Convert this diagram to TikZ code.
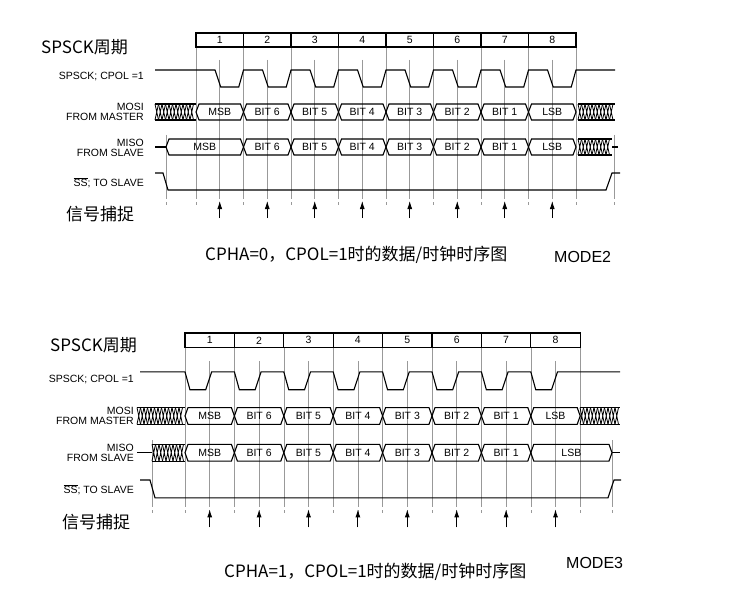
\documentclass[tikz,border=0pt]{standalone}
\usepackage{fontspec}
\setmainfont{Liberation Sans}
\newfontfamily\cjk{Noto Sans CJK SC}
\usetikzlibrary{arrows.meta}
\tikzset{
 lbl/.style={font=\fontsize{10.5}{10}\selectfont, inner sep=0pt},
 rlbl/.style={font=\fontsize{10.5}{10}\selectfont, inner sep=0pt, anchor=east, align=right},
 sig/.style={line width=1.1pt},
 guide/.style={gray!80, line width=0.6pt},
 caparrow/.style={-{Latex[length=8pt,width=5pt]}, line width=0.9pt},
}
\newcommand\hatchbar[4]{%
 \draw[sig] (#1,-#3)--(#2,-#3) (#1,-#4)--(#2,-#4);
 \pgfmathtruncatemacro\nh{(#2-#1)/3.5}
 \foreach \k in {1,...,\nh}{\draw[line width=0.8pt] ({#1+(\k-1)*3.5},-#3)--({#1+\k*3.5},-#4) ({#1+(\k-1)*3.5},-#4)--({#1+\k*3.5},-#3);}}
\newcommand\cellbox[5]{%
 \draw[sig] (#1,{-(#3+#4)/2})--({#1+3},-#3)--({#2-3},-#3)--(#2,{-(#3+#4)/2})--({#2-3},-#4)--({#1+3},-#4)--cycle;
 \node[lbl] at ({(#1+#2)/2},{-(#3+#4)/2}) {#5};}
\begin{document}
\begin{tikzpicture}[x=1pt,y=1pt]
\useasboundingbox[fill=white] (0,0) rectangle (742,-607);
% ================= TOP (MODE2) =================
\begin{scope}
\def\xo{196}\def\w{47.5}
\foreach \i in {0,...,8}{\draw[guide] ({\xo+\i*\w},-47)--({\xo+\i*\w},-196);
 \draw[guide,dashed] ({\xo+\i*\w},-196)--({\xo+\i*\w},-206);}
\foreach \i in {0,...,7}{\draw[guide] ({\xo+(\i+0.5)*\w},-60)--({\xo+(\i+0.5)*\w},-196);
 \draw[guide,dashed] ({\xo+(\i+0.5)*\w},-196)--({\xo+(\i+0.5)*\w},-206);}
\foreach \xx in {166,614}{\draw[guide] (\xx,-135)--(\xx,-196);\draw[guide,dashed](\xx,-196)--(\xx,-206);}
\draw[sig] (\xo,-33) rectangle ({\xo+8*\w},-47);
\foreach \i in {1,...,7}\draw[sig] ({\xo+\i*\w},-33)--({\xo+\i*\w},-47);
\foreach \i in {1,...,8}\node[lbl] at ({\xo+(\i-0.5)*\w},-40) {\i};
\node[font=\cjk\fontsize{17}{17}\selectfont, anchor=west, inner sep=0pt] (t1) at (41,-47) {SPSCK周期};
\node[rlbl] (clkl) at (144,-77) {SPSCK; CPOL =1};
\node[rlbl] (mosil) at (144,-112) {MOSI\\FROM MASTER};
\node[rlbl] (misol) at (144,-148) {MISO\\FROM SLAVE};
\node[rlbl] (ssl) at (144,-183) {$\overline{\mbox{SS}}$; TO SLAVE};
\draw[sig] (155,-70) foreach \i in {0,...,7}{ -- ({\xo+\i*\w+0.4*\w},-70) -- ({\xo+\i*\w+0.52*\w},-87) -- ({\xo+\i*\w+0.9*\w},-87) -- ({\xo+\i*\w+\w},-70)} -- (615,-70);
\hatchbar{155}{196}{104}{120}
\foreach \i/\t in {0/MSB,1/BIT 6,2/BIT 5,3/BIT 4,4/BIT 3,5/BIT 2,6/BIT 1,7/LSB}
 \cellbox{\xo+\i*\w}{\xo+\i*\w+\w}{104}{120}{\t};
\hatchbar{578}{615}{104}{120}
\draw[sig] (155,-147)--(166,-147);
\cellbox{166}{\xo+\w}{139}{155}{MSB}
\foreach \i/\t in {1/BIT 6,2/BIT 5,3/BIT 4,4/BIT 3,5/BIT 2,6/BIT 1,7/LSB}
 \cellbox{\xo+\i*\w}{\xo+\i*\w+\w}{139}{155}{\t};
\hatchbar{578}{612}{139}{155}
\draw[sig] (612,-147)--(618,-147);
\draw[sig] (155,-173)--(163,-173)--(168,-190)--(606,-190)--(612,-173)--(620,-173);
\node[font=\cjk\fontsize{17}{17}\selectfont, anchor=west, inner sep=0pt] (cap1) at (66,-214) {信号捕捉};
\foreach \i in {0,...,7}\draw[caparrow] ({\xo+(\i+0.5)*\w},-218)--({\xo+(\i+0.5)*\w},-201);
\node[font=\cjk\fontsize{17}{17}\selectfont, anchor=west, inner sep=0pt] (c1) at (205,-255) {CPHA=0，CPOL=1时的数据/时钟时序图};
\node[font=\fontsize{16}{16}\selectfont, anchor=west, inner sep=0pt] (m2) at (554,-257) {MODE2};
\end{scope}
% ================= BOTTOM (MODE3) =================
\begin{scope}[yshift=-298.35pt, yscale=1.05]
\def\xo{185}\def\w{49.4}
\foreach \i in {0,...,8}{\draw[guide] ({\xo+\i*\w},-47)--({\xo+\i*\w},-196);
 \draw[guide,dashed] ({\xo+\i*\w},-196)--({\xo+\i*\w},-206);}
\foreach \i in {0,...,7}{\draw[guide] ({\xo+(\i+0.5)*\w},-60)--({\xo+(\i+0.5)*\w},-196);
 \draw[guide,dashed] ({\xo+(\i+0.5)*\w},-196)--({\xo+(\i+0.5)*\w},-206);}
\foreach \xx in {152,612}{\draw[guide] (\xx,-135)--(\xx,-196);\draw[guide,dashed](\xx,-196)--(\xx,-206);}
\draw[sig] (\xo,-33) rectangle ({\xo+8*\w},-47);
\foreach \i in {1,...,7}\draw[sig] ({\xo+\i*\w},-33)--({\xo+\i*\w},-47);
\foreach \i in {1,...,8}\node[lbl] at ({\xo+(\i-0.5)*\w},-40) {\i};
\node[font=\cjk\fontsize{17}{17}\selectfont, anchor=west, inner sep=0pt] (t2) at (50,-45) {SPSCK周期};
\node[rlbl] (clk2) at (134,-77) {SPSCK; CPOL =1};
\node[rlbl] (mosi2) at (134,-112) {MOSI\\FROM MASTER};
\node[rlbl] (miso2) at (134,-147) {MISO\\FROM SLAVE};
\node[rlbl] (ss2) at (134,-182) {$\overline{\mbox{SS}}$; TO SLAVE};
\draw[sig] (140,-70) foreach \i in {0,...,7}{ -- ({\xo+\i*\w},-70) -- ({\xo+\i*\w+0.1*\w},-87) -- ({\xo+\i*\w+0.42*\w},-87) -- ({\xo+\i*\w+0.54*\w},-70) -- ({\xo+\i*\w+\w},-70)} -- (620,-70);
\hatchbar{137}{185}{104}{120}
\foreach \i/\t in {0/MSB,1/BIT 6,2/BIT 5,3/BIT 4,4/BIT 3,5/BIT 2,6/BIT 1,7/LSB}
 \cellbox{\xo+\i*\w}{\xo+\i*\w+\w}{104}{120}{\t};
\hatchbar{580}{620}{104}{120}
\draw[sig] (137,-147)--(152,-147);
\hatchbar{152}{185}{139}{155}
\foreach \i/\t in {0/MSB,1/BIT 6,2/BIT 5,3/BIT 4,4/BIT 3,5/BIT 2,6/BIT 1}
 \cellbox{\xo+\i*\w}{\xo+\i*\w+\w}{139}{155}{\t};
\cellbox{\xo+7*\w}{612}{139}{155}{LSB}
\draw[sig] (612,-147)--(620,-147);
\draw[sig] (140,-173)--(150,-173)--(155,-190)--(608,-190)--(614,-173)--(621,-173);
\node[font=\cjk\fontsize{17}{17}\selectfont, anchor=west, inner sep=0pt] (cap2) at (62,-213) {信号捕捉};
\foreach \i in {0,...,7}\draw[caparrow] ({\xo+(\i+0.5)*\w},-218)--({\xo+(\i+0.5)*\w},-201);
\node[font=\cjk\fontsize{17}{17}\selectfont, anchor=west, inner sep=0pt] (c2) at (224,-260) {CPHA=1，CPOL=1时的数据/时钟时序图};
\node[font=\fontsize{16}{16}\selectfont, anchor=west, inner sep=0pt] (m3) at (566,-252) {MODE3};
\end{scope}
\end{tikzpicture}
\end{document}
